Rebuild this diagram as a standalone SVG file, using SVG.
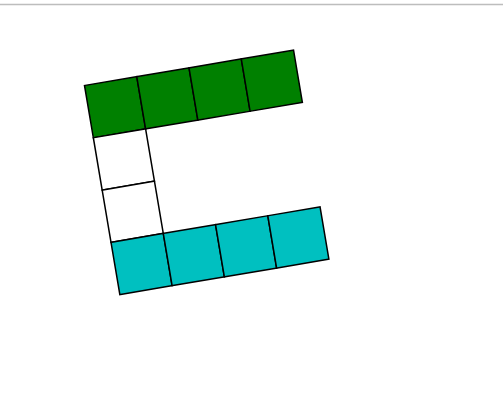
<svg xmlns="http://www.w3.org/2000/svg" width="503" height="415" viewBox="0 0 503 415">
<style>
.c{stroke:#000;stroke-width:1.5}
.g{fill:#008000}
.w{fill:#fff}
.t{fill:#00c0c0}
</style>
<rect x="0" y="0" width="503" height="415" fill="#fff"/>
<line x1="0" y1="4.5" x2="503" y2="4.5" stroke="#bdbdbd" stroke-width="1.5"/>
<g transform="translate(84.5,85.5) rotate(-9.6)">
<g id="green-row">
<rect class="c g" x="0" y="0" width="53" height="53"/>
<rect class="c g" x="53" y="0" width="53" height="53"/>
<rect class="c g" x="106" y="0" width="53" height="53"/>
<rect class="c g" x="159" y="0" width="53" height="53"/>
</g>
<g id="white-col">
<rect class="c w" x="0" y="53" width="53" height="53"/>
<rect class="c w" x="0" y="106" width="53" height="53"/>
</g>
<g id="cyan-row">
<rect class="c t" x="0" y="159" width="53" height="53"/>
<rect class="c t" x="53" y="159" width="53" height="53"/>
<rect class="c t" x="106" y="159" width="53" height="53"/>
<rect class="c t" x="159" y="159" width="53" height="53"/>
</g>
</g>
</svg>
